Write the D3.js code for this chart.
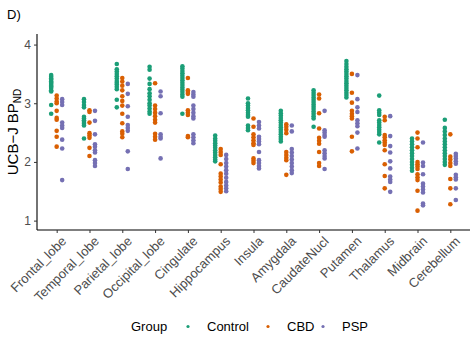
<!DOCTYPE html>
<html>
<head>
<meta charset="utf-8">
<script src="https://cdn.jsdelivr.net/npm/d3@7"></script>
<style>
  body { margin: 0; background: #fff; }
  text { font-family: "Liberation Sans", Arial, sans-serif; }
</style>
</head>
<body>
<div id="chart"></div>
<script>
// ------------------------------------------------------
// Chart size
const width = 470
const height = 350

// ------------------------------------------------------
// Data
const regions = ['Frontal_lobe', 'Temporal_lobe', 'Parietal_lobe', 'Occipital_lobe', 'Cingulate',
	'Hippocampus', 'Insula', 'Amygdala', 'CaudateNucl', 'Putamen', 'Thalamus', 'Midbrain', 'Cerebellum']
const groups = ['Control', 'CBD', 'PSP']
const groupColors = ['#1b9e77', '#d95f02', '#7570b3']
const yTicks = [1, 2, 3, 4]

const controlValues = [
	[3.48, 3.45, 3.42, 3.40, 3.37, 3.35, 3.33, 3.30, 3.28, 3.26, 3.22, 3.20, 2.97, 2.82],
	[3.07, 3.02, 2.97, 2.93, 2.77, 2.74, 2.71, 2.68, 2.65, 2.62, 2.40],
	[3.67, 3.58, 3.54, 3.50, 3.46, 3.42, 3.38, 3.35, 3.32, 3.28, 3.24, 3.06, 2.93],
	[3.62, 3.57, 3.42, 3.33, 3.24, 3.17, 3.12, 3.06, 3.00, 2.96, 2.91, 2.86, 2.82],
	[3.63, 3.59, 3.55, 3.51, 3.47, 3.43, 3.39, 3.35, 3.31, 3.27, 3.23, 3.19, 3.15, 3.11, 2.82],
	[2.45, 2.40, 2.36, 2.32, 2.28, 2.24, 2.20, 2.16, 2.12, 2.08, 2.04, 2.01],
	[3.08, 3.00, 2.96, 2.92, 2.88, 2.84, 2.80, 2.77, 2.62, 2.58, 2.54],
	[2.87, 2.83, 2.79, 2.75, 2.71, 2.67, 2.63, 2.59, 2.55, 2.51, 2.47, 2.43, 2.39, 2.35],
	[3.22, 3.18, 3.14, 3.10, 3.06, 3.02, 2.98, 2.94, 2.90, 2.86, 2.82, 2.78, 2.74, 2.60],
	[3.72, 3.67, 3.62, 3.58, 3.54, 3.50, 3.46, 3.42, 3.38, 3.34, 3.30, 3.26, 3.22, 3.18, 3.14, 3.10],
	[3.13, 2.88, 2.84, 2.80, 2.71, 2.67, 2.63, 2.59, 2.55, 2.51, 2.47, 2.33],
	[2.40, 2.35, 2.30, 2.25, 2.20, 2.15, 2.10, 2.05, 2.00, 1.95, 1.90, 1.85],
	[2.72, 2.58, 2.52, 2.46, 2.40, 2.35, 2.30, 2.25, 2.20, 2.15, 2.10, 2.05, 2.00, 1.95]
]

const cbdValues = [
	[3.13, 3.08, 3.03, 3.00, 2.87, 2.75, 2.72, 2.53, 2.43, 2.26],
	[2.88, 2.85, 2.67, 2.49, 2.45, 2.41, 2.24, 2.10],
	[3.43, 3.37, 3.30, 3.22, 3.12, 3.04, 2.96, 2.82, 2.66, 2.52, 2.48, 2.42],
	[3.34, 2.96, 2.90, 2.84, 2.78, 2.72, 2.67, 2.48, 2.43, 2.38],
	[3.43, 3.22, 3.19, 3.16, 2.88, 2.84, 2.80, 2.44, 2.42],
	[2.22, 2.17, 2.12, 1.96, 1.80, 1.75, 1.70, 1.65, 1.58, 1.54, 1.49],
	[2.74, 2.60, 2.47, 2.42, 2.37, 2.32, 2.29, 2.06, 2.02, 1.98],
	[2.64, 2.60, 2.55, 2.49, 2.17, 2.12, 2.07, 2.03, 1.78],
	[3.15, 3.08, 2.83, 2.57, 2.41, 2.36, 2.31, 2.17, 1.98, 1.93],
	[3.50, 3.18, 3.01, 2.87, 2.82, 2.78, 2.74, 2.43, 2.18],
	[2.77, 2.71, 2.46, 2.42, 2.37, 2.33, 2.29, 2.20, 1.96, 1.76, 1.55],
	[2.50, 2.40, 2.25, 2.00, 1.96, 1.92, 1.88, 1.79, 1.74, 1.69, 1.51, 1.17],
	[2.47, 2.09, 2.04, 1.98, 1.93, 1.71, 1.55, 1.28]
]

const pspValues = [
	[3.07, 3.02, 2.97, 2.67, 2.62, 2.58, 2.38, 2.23, 1.69],
	[2.87, 2.70, 2.47, 2.30, 2.26, 2.20, 2.16, 2.03, 1.98, 1.93],
	[3.33, 3.16, 2.95, 2.77, 2.63, 2.58, 2.53, 2.18, 1.88],
	[3.20, 3.12, 2.83, 2.47, 2.43, 2.40, 2.06],
	[3.19, 3.15, 3.11, 2.96, 2.90, 2.84, 2.78, 2.74, 2.47, 2.42, 2.37, 2.32],
	[2.12, 2.05, 1.98, 1.92, 1.86, 1.80, 1.73, 1.66, 1.60, 1.55, 1.50],
	[2.68, 2.62, 2.57, 2.43, 2.39, 2.35, 2.30, 2.17, 2.03, 1.98, 1.93, 1.89],
	[2.62, 2.52, 2.22, 2.16, 2.10, 2.04, 1.98, 1.92, 1.86, 1.81],
	[2.87, 2.54, 2.50, 2.46, 2.43, 2.20, 2.15, 2.10, 2.06, 1.88],
	[3.48, 3.07, 2.93, 2.85, 2.71, 2.66, 2.61, 2.50, 2.23],
	[2.78, 2.44, 2.27, 2.16, 2.01, 1.89, 1.75, 1.70, 1.66, 1.49],
	[2.33, 1.99, 1.93, 1.79, 1.63, 1.58, 1.53, 1.48, 1.29, 1.26],
	[2.14, 2.10, 2.06, 2.01, 1.97, 1.78, 1.74, 1.70, 1.55, 1.35]
]

// flatten into one row per point
const seriesByGroup = [controlValues, cbdValues, pspValues]
const points = []
groups.forEach((g, gi) => {
	seriesByGroup[gi].forEach((vals, ri) => {
		vals.forEach(v => points.push({ region: regions[ri], group: g, value: v }))
	})
})

// ------------------------------------------------------
// Layout
const plotLeft = 37
const plotRight = 470
const plotTop = 34
const plotBottom = 230

const x = d3.scalePoint()
	.domain(regions)
	.range([plotLeft, plotRight])
	.padding(0.6)

// dodge within each region
const dodge = d3.scalePoint()
	.domain(groups)
	.range([-5.5, 5.5])

const y = d3.scaleLinear()
	.domain([0.84, 4.18])
	.range([plotBottom, plotTop])

const color = d3.scaleOrdinal()
	.domain(groups)
	.range(groupColors)

const svg = d3.select('#chart')
	.append('svg')
	.attr('width', width)
	.attr('height', height)

// panel tag
svg.append('text')
	.attr('x', 7)
	.attr('y', 19)
	.attr('font-size', 13)
	.attr('fill', '#000')
	.text('D)')

// ------------------------------------------------------
// Axes
const yAxis = svg.append('g')
	.attr('transform', `translate(${plotLeft},0)`)
	.call(d3.axisLeft(y).tickValues(yTicks).tickFormat(d3.format('d'))
		.tickSize(3).tickPadding(3).tickSizeOuter(0))
yAxis.select('.domain').attr('stroke', '#000').attr('stroke-width', 1.1)
	.attr('d', `M0,${plotTop}V${plotBottom}`)
yAxis.selectAll('.tick line').attr('stroke', '#333')
yAxis.selectAll('.tick text')
	.attr('font-size', 12)
	.attr('fill', '#4d4d4d')
	.attr('font-family', '"Liberation Sans", Arial, sans-serif')

const xAxis = svg.append('g')
	.attr('transform', `translate(0,${plotBottom})`)
	.call(d3.axisBottom(x).tickSize(3).tickSizeOuter(0))
xAxis.select('.domain').attr('stroke', '#000').attr('stroke-width', 1.1)
	.attr('d', `M${plotLeft},0H${plotRight}`)
xAxis.selectAll('.tick line').attr('stroke', '#333')
xAxis.selectAll('.tick text')
	.attr('font-size', 13)
	.attr('fill', '#4d4d4d')
	.attr('font-family', '"Liberation Sans", Arial, sans-serif')
	.attr('text-anchor', 'end')
	.attr('x', 0)
	.attr('y', 0)
	.attr('dy', 0)
	.attr('transform', 'translate(10,12) rotate(-45)')

// y axis title with subscript
const yTitle = svg.append('g')
	.attr('transform', 'translate(18,132) rotate(-90)')
	.append('text')
	.attr('x', 0)
	.attr('y', 0)
	.attr('text-anchor', 'middle')
	.attr('font-size', 15)
	.attr('fill', '#000')
yTitle.append('tspan').text('UCB\u2212J BP')
yTitle.append('tspan')
	.attr('font-size', 10)
	.attr('dy', 3)
	.text('ND')

// ------------------------------------------------------
// Points
svg.append('g')
	.selectAll('circle')
	.data(points)
	.join('circle')
	.attr('cx', d => x(d.region) + dodge(d.group))
	.attr('cy', d => y(d.value))
	.attr('r', 2.3)
	.attr('fill', d => color(d.group))

// ------------------------------------------------------
// Legend
const legend = svg.append('g')
	.attr('transform', 'translate(0,331)')

legend.append('text')
	.attr('x', 131)
	.attr('y', 0)
	.attr('font-size', 13)
	.attr('fill', '#000')
	.text('Group')

const legendX = [188, 268, 323]
groups.forEach((g, i) => {
	legend.append('circle')
		.attr('cx', legendX[i])
		.attr('cy', -4.5)
		.attr('r', 1.6)
		.attr('fill', color(g))
	legend.append('text')
		.attr('x', legendX[i] + 19)
		.attr('y', 0)
		.attr('font-size', 13)
		.attr('fill', '#000')
		.text(g)
})
</script>
</body>
</html>
